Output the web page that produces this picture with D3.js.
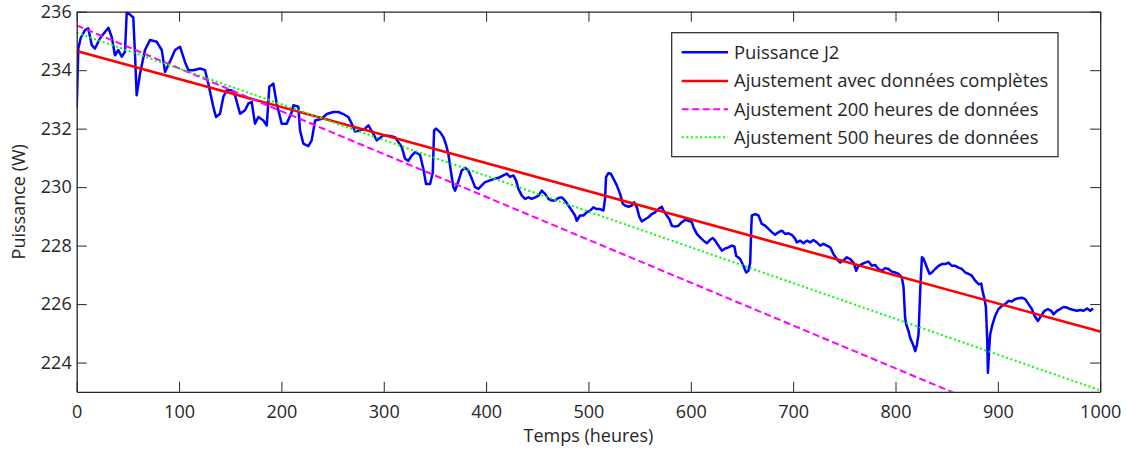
<!DOCTYPE html>
<html>
<head>
<meta charset="utf-8">
<script src="https://cdn.jsdelivr.net/npm/d3@7/dist/d3.min.js"></script>
<style>
  html, body { margin: 0; padding: 0; background: #fff; }
  svg { display: block; }
  text { font-family: "Open Sans", sans-serif; fill: #262626; }
</style>
</head>
<body>
<svg id="chart" width="1127" height="449"></svg>
<script>
// Measured power of stack J2 over time (hours, watts)
const hours = [0,1.6,3.9,8.1,11.3,14.7,17.9,22.8,30.9,34.2,37.4,40.7,44.0,47.2,48.9,52.1,55.3,57.0,58.6,61.9,66.7,71.6,78.2,83.1,86.3,91.2,96.1,101,105.8,109.1,113.9,120.5,125.4,128.6,133.5,136.1,140,143.3,146.6,151.5,154.7,159.6,164.5,167.7,171,174.2,177.5,182.4,185.7,188.2,192.1,195.4,200.3,205.2,210.1,211.7,216.6,218.2,221.4,226.3,229.6,232.9,239.4,244.3,250.8,255.6,260.5,265.4,268.7,272,276.9,281.7,285,288.6,293.2,299.6,306.2,311,314.3,317.6,320.8,324,327.4,330.6,335.5,338.7,341.3,345.3,347.9,349.2,351.1,355,358.3,360.9,363.1,365.5,368,369.7,372.9,376.2,379.5,382.7,386,389.2,392.5,395.8,399,403.9,408.8,413.7,416.9,420.2,423.4,426.7,429.3,431.6,434.9,438.1,441.4,444.6,447.9,451.2,454.4,457.6,460.9,464.2,467.4,470.6,473.9,477.2,480.4,483.7,486.9,488.6,491.8,495.1,498.4,501.6,504.8,508.1,511.4,514.6,516.2,517.2,519.5,521.8,524.4,527.7,530.9,533.6,535.8,539.1,542.4,544.6,547.3,549.8,552.1,555.4,558.6,561.9,565.1,568.4,571.7,573.2,576.5,579.1,581.5,584.7,587.9,591.2,594.5,597.7,601,602.6,605.9,609.1,612.4,615.6,618.9,621.5,623.8,627,630.3,633.6,636.8,640.1,642.6,644.3,648.2,651.4,654.1,656.3,658,659,659.6,662.9,666.1,669.4,672.6,675.9,679.2,682.4,685.7,689,692.2,695.4,698.7,702,703.6,706.9,710.1,713.4,716.6,719.8,723.1,726.4,729.6,732.9,736.2,739.4,742.7,746,749.2,752.5,755.7,759,761.6,763.8,767.1,770.3,773.6,776.9,780.1,783.4,786.7,789.9,793.1,796.4,799.7,802.9,806.2,807.8,809.4,810.4,812.7,814.3,817.6,819.3,820.9,822.5,824.2,825.8,827.4,830.7,833.3,835.5,838.8,842.1,845.3,848.6,851.8,855.1,858.3,861.6,864.9,868.1,871.4,874.6,877.9,881.1,883.8,885,887,888.3,889.6,890.3,891.6,892.5,894.8,897.4,900.6,903.9,907.2,910.4,913.7,916.9,920.2,923.5,926.7,930,933.2,935.8,939.1,942.3,945.6,948.9,952.1,954.4,957.7,960.9,964.2,967.5,970.7,974,977.3,980.5,983.8,987.1,990.3,993];
const puissance = [232.7,234.74,235.1,235.37,235.43,234.86,234.74,235.09,235.45,235.14,234.51,234.69,234.46,234.63,236.0,235.9,235.8,234.5,233.14,233.89,234.69,235.03,234.97,234.69,233.94,234.3,234.69,234.8,234.28,234.0,234.0,234.06,234.0,233.54,232.74,232.4,232.51,233.09,233.31,233.31,233.14,232.51,232.63,232.86,232.91,232.17,232.4,232.28,232.11,233.43,233.54,232.86,232.17,232.17,232.57,232.8,232.75,231.94,231.49,231.4,231.6,232.28,232.34,232.5,232.57,232.57,232.5,232.4,232.17,231.9,231.94,232.0,232.11,231.9,231.6,231.77,231.75,231.71,231.54,231.37,230.97,230.9,231.08,231.2,231.1,230.63,230.11,230.11,230.5,231.94,232.0,231.88,231.71,231.45,231.14,230.57,230.0,229.88,230.2,230.57,230.66,230.57,230.29,230.0,229.94,230.06,230.17,230.23,230.29,230.34,230.4,230.46,230.35,230.4,230.23,229.94,229.71,229.6,229.65,229.6,229.65,229.71,229.88,229.77,229.6,229.54,229.54,229.63,229.65,229.54,229.37,229.2,229.03,228.85,229.03,229.03,229.14,229.2,229.31,229.25,229.25,229.2,229.6,230.34,230.48,230.46,230.29,230.06,229.77,229.43,229.37,229.33,229.37,229.48,229.31,228.97,228.83,228.9,228.97,229.08,229.14,229.25,229.33,229.2,229.03,228.9,228.68,228.65,228.68,228.8,228.88,228.85,228.8,228.63,228.4,228.28,228.17,228.08,228.2,228.26,228.17,228.0,227.83,227.9,227.94,228.0,227.97,227.65,227.54,227.31,227.08,227.14,227.4,228.5,229.03,229.08,229.03,228.74,228.68,228.57,228.46,228.37,228.46,228.51,228.4,228.42,228.37,228.23,228.11,228.17,228.08,228.17,228.11,228.19,228.11,228.0,228.06,228.0,227.94,227.71,227.54,227.42,227.5,227.6,227.54,227.42,227.14,227.31,227.37,227.42,227.46,227.31,227.34,227.2,227.14,227.23,227.2,227.11,227.08,227.03,226.91,226.6,225.54,225.31,225.08,224.85,224.57,224.39,224.6,224.97,226.5,227.6,227.55,227.25,227.03,227.08,227.2,227.31,227.37,227.37,227.42,227.31,227.31,227.25,227.2,227.08,227.03,226.97,226.8,226.68,226.7,226.45,226.17,225.9,224.8,223.65,224.5,224.97,225.31,225.6,225.83,225.94,226.0,226.11,226.09,226.17,226.2,226.22,226.17,226.0,225.83,225.6,225.42,225.6,225.77,225.83,225.77,225.65,225.77,225.83,225.9,225.88,225.83,225.8,225.77,225.8,225.77,225.85,225.77,225.85];

// Linear fits: values at t = 0 h and t = 1000 h
const fitHours = [0, 1000];
const fitComplete = [234.66, 225.06];
const fit200h = [235.53, 220.87];
const fit500h = [235.28, 223.05];

const xTicks = [0,100,200,300,400,500,600,700,800,900,1000];
const yTicks = [224,226,228,230,232,234,236];

const legendLabels = [
  "Puissance J2",
  "Ajustement avec données complètes",
  "Ajustement 200 heures de données",
  "Ajustement 500 heures de données"
];

const styles = [
  { color: "#0000ff", width: 2.5, dash: null },
  { color: "#ff0000", width: 2.6, dash: null },
  { color: "#ff00ff", width: 2, dash: "7,3.5" },
  { color: "#00ff00", width: 2, dash: "2,2.6" }
];

const svg = d3.select("#chart");
const plotL = 76.7, plotR = 1100.2, plotT = 11.7, plotB = 391.8;

const x = d3.scaleLinear().domain([0, 1000]).range([plotL, plotR]);
const y = d3.scaleLinear().domain([223, 236]).range([plotB, plotT]);

svg.append("defs").append("clipPath").attr("id", "plotclip")
  .append("rect").attr("x", plotL).attr("y", plotT)
  .attr("width", plotR - plotL).attr("height", plotB - plotT);

const plot = svg.append("g").attr("clip-path", "url(#plotclip)");
const line = d3.line().x(d => x(d[0])).y(d => y(d[1]));

const series = [
  d3.zip(hours, puissance),
  d3.zip(fitHours, fitComplete),
  d3.zip(fitHours, fit200h),
  d3.zip(fitHours, fit500h)
];

series.forEach((data, i) => {
  const s = styles[i];
  plot.append("path")
    .datum(data)
    .attr("d", line)
    .attr("fill", "none")
    .attr("stroke", s.color)
    .attr("stroke-width", s.width)
    .attr("stroke-linejoin", "round")
    .attr("stroke-dasharray", s.dash);
});

// Axes with inward ticks on all four sides
const tickLen = 10;
const axisColor = "#262626";
const fmt = d3.format("d");

const xb = svg.append("g").attr("transform", `translate(0,${plotB})`)
  .call(d3.axisBottom(x).tickValues(xTicks).tickFormat(fmt).tickSizeInner(-tickLen).tickSizeOuter(0));
const xt = svg.append("g").attr("transform", `translate(0,${plotT})`)
  .call(d3.axisTop(x).tickValues(xTicks).tickSizeInner(-tickLen).tickSizeOuter(0).tickFormat(""));
const yl = svg.append("g").attr("transform", `translate(${plotL},0)`)
  .call(d3.axisLeft(y).tickValues(yTicks).tickFormat(fmt).tickSizeInner(-tickLen).tickSizeOuter(0).tickPadding(5));
const yr = svg.append("g").attr("transform", `translate(${plotR},0)`)
  .call(d3.axisRight(y).tickValues(yTicks).tickSizeInner(-tickLen).tickSizeOuter(0).tickFormat(""));

[xb, xt, yl, yr].forEach(g => {
  g.select(".domain").attr("stroke", axisColor).attr("stroke-width", 1.3);
  g.selectAll(".tick line").attr("stroke", axisColor).attr("stroke-width", 1);
  g.selectAll(".tick text").style("font-family", "'Open Sans', sans-serif")
    .style("font-size", "18px").attr("fill", axisColor);
});
xb.selectAll(".tick text").attr("dy", null).attr("y", 26);

// Axis titles
svg.append("text")
  .attr("x", (plotL + plotR) / 2).attr("y", 441.5)
  .attr("text-anchor", "middle")
  .style("font-size", "18px")
  .text("Temps (heures)");

svg.append("text")
  .attr("transform", `translate(25,${(plotT + plotB) / 2}) rotate(-90)`)
  .attr("text-anchor", "middle")
  .style("font-size", "18px")
  .text("Puissance (W)");

// Legend
const lg = svg.append("g");
lg.append("rect")
  .attr("x", 671.7).attr("y", 32.7)
  .attr("width", 1058 - 671.7).attr("height", 156.7 - 32.7)
  .attr("fill", "#fff").attr("stroke", axisColor).attr("stroke-width", 1.2);

const rowY = [52.3, 81, 109.3, 137.3];
legendLabels.forEach((lab, i) => {
  const s = styles[i];
  lg.append("line")
    .attr("x1", 681.7).attr("x2", 728)
    .attr("y1", rowY[i]).attr("y2", rowY[i])
    .attr("stroke", s.color).attr("stroke-width", s.width)
    .attr("stroke-dasharray", s.dash);
  lg.append("text")
    .attr("x", 734).attr("y", rowY[i])
    .attr("dy", "0.35em")
    .style("font-size", "18.4px")
    .text(lab);
});
</script>
</body>
</html>
